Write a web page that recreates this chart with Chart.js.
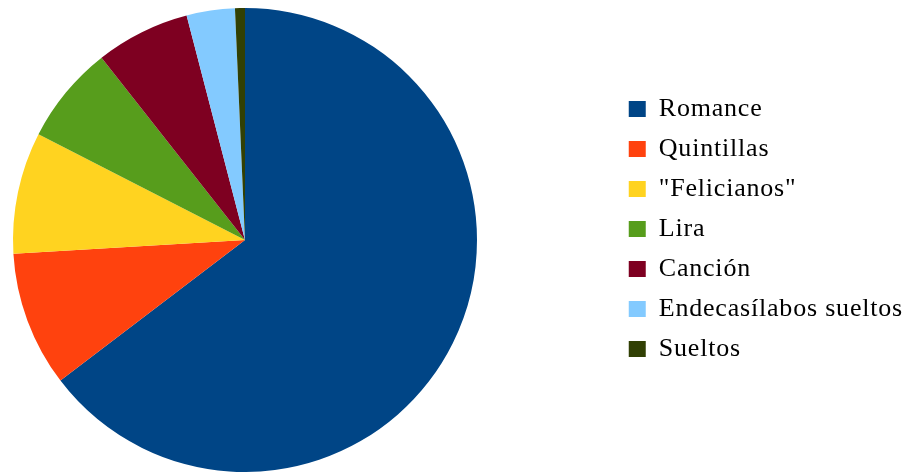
<!DOCTYPE html>
<html>
<head>
<meta charset="utf-8">
<script src="https://cdn.jsdelivr.net/npm/chart.js@4"></script>
<style>
  html, body { margin: 0; padding: 0; background: #ffffff; }
  #wrap { width: 904px; height: 472px; }
</style>
</head>
<body>
<div id="wrap"><canvas id="grafico"></canvas></div>
<script>
// datos (porcentaje de cada forma metrica)
const categorias = ["Romance", "Quintillas", "\"Felicianos\"", "Lira", "Canción", "Endecasílabos sueltos", "Sueltos"];
const valores = [64.64, 9.42, 8.47, 6.86, 6.56, 3.36, 0.69];
const colores = ["#004586", "#ff420e", "#ffd320", "#579d1c", "#7e0021", "#83caff", "#314004"];

// el texto de la leyenda va un poco espaciado en el original
const espaciado = {
    id: "espaciado",
    beforeLayout(chart) { chart.ctx.letterSpacing = "0.8px"; },
    beforeDraw(chart) { chart.ctx.letterSpacing = "0.8px"; }
};

// la tarta no queda centrada en el hueco libre: ocupa solo la parte izquierda,
// y la leyenda sube un poco
const recolocar = {
    id: "recolocar",
    afterLayout(chart) {
        const area = chart.chartArea;
        area.right = area.left + 490;
        area.width = 490;
        chart.legend.top -= 11;
        chart.legend.bottom -= 11;
    }
};

const config = {
    type: "pie",
    data: {
        labels: categorias,
        datasets: [{
            data: valores,
            backgroundColor: colores,
            borderWidth: 0
        }]
    },
    options: {
        responsive: false,
        animation: false,
        layout: {
            padding: { top: 8, bottom: 0, left: 0, right: -9 }
        },
        plugins: {
            tooltip: { enabled: false },
            legend: {
                position: "right",
                labels: {
                    boxWidth: 17,
                    boxHeight: 16,
                    padding: 14,
                    color: "#000000",
                    font: { family: "'Liberation Serif', 'Times New Roman', serif", size: 26 }
                }
            }
        }
    },
    plugins: [espaciado, recolocar]
};

const canvas = document.getElementById("grafico");
canvas.width = 904;
canvas.height = 472;
new Chart(canvas, config);
</script>
</body>
</html>
